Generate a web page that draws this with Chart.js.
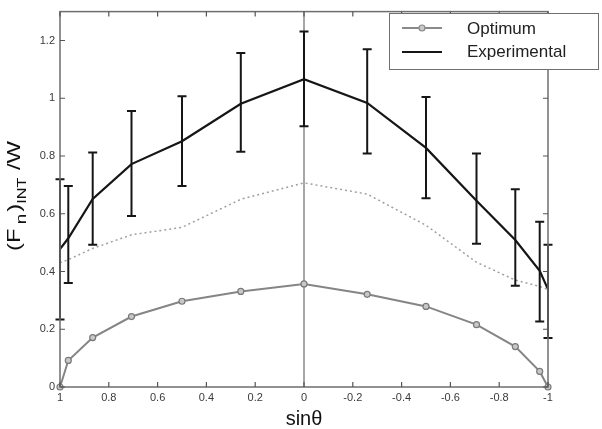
<!DOCTYPE html>
<html>
<head>
<meta charset="utf-8">
<script src="https://cdn.jsdelivr.net/npm/chart.js@4/dist/chart.umd.min.js"></script>
<style>
html,body{margin:0;padding:0;background:#fff;}
#wrap{width:602px;height:429px;position:relative;}
</style>
</head>
<body>
<div id="wrap"><canvas id="c" width="602" height="429"></canvas></div>
<script>
// ---- data ----
const sinTheta     = [1, 0.966, 0.866, 0.707, 0.5, 0.259, 0, -0.259, -0.5, -0.707, -0.866, -0.966, -1];
const optimum      = [0, 0.092, 0.171, 0.244, 0.297, 0.331, 0.357, 0.321, 0.279, 0.216, 0.140, 0.054, 0];
const experimental = [0.478, 0.515, 0.651, 0.772, 0.851, 0.981, 1.066, 0.984, 0.828, 0.645, 0.509, 0.402, 0.338];
const errLow       = [0.234, 0.360, 0.493, 0.592, 0.696, 0.815, 0.903, 0.809, 0.654, 0.496, 0.351, 0.227, 0.170];
const errHigh      = [0.719, 0.696, 0.812, 0.956, 1.007, 1.157, 1.231, 1.170, 1.004, 0.809, 0.685, 0.572, 0.493];
const dottedCurve  = [0.430, 0.441, 0.480, 0.527, 0.553, 0.650, 0.707, 0.668, 0.560, 0.432, 0.370, 0.348, 0.338];
const seriesNames  = ['Optimum', 'Experimental'];
const xTitle = 'sinθ';

const FONT = '"Liberation Sans", Arial, sans-serif';
const pts = arr => arr.map((v, i) => ({x: sinTheta[i], y: v}));
const fmt = v => String(Math.round(v * 10) / 10);

const framePlugin = {
  id: 'frame',
  beforeDatasetsDraw(chart) {
    const {ctx, chartArea: a, scales: {x}} = chart;
    const x0 = x.getPixelForValue(0);
    ctx.save();
    ctx.strokeStyle = '#8a8a8a';
    ctx.lineWidth = 1.5;
    ctx.beginPath();
    ctx.moveTo(x0, a.top); ctx.lineTo(x0, a.bottom);
    ctx.stroke();
    ctx.restore();
  },
  afterDatasetsDraw(chart) {
    const {ctx, scales: {x, y}} = chart;
    ctx.save();
    ctx.strokeStyle = '#161616';
    ctx.lineWidth = 2;
    for (let i = 0; i < sinTheta.length; i++) {
      const px = x.getPixelForValue(sinTheta[i]);
      const lo = y.getPixelForValue(errLow[i]);
      const hi = y.getPixelForValue(errHigh[i]);
      ctx.beginPath();
      ctx.moveTo(px, lo); ctx.lineTo(px, hi);
      ctx.moveTo(px - 4.5, lo); ctx.lineTo(px + 4.5, lo);
      ctx.moveTo(px - 4.5, hi); ctx.lineTo(px + 4.5, hi);
      ctx.stroke();
    }
    ctx.restore();
  },
  afterDraw(chart) {
    const {ctx, chartArea: a, scales: {x, y}} = chart;
    ctx.save();
    ctx.strokeStyle = '#6e6e6e';
    ctx.lineWidth = 1.5;
    ctx.strokeRect(a.left, a.top, a.right - a.left, a.bottom - a.top);
    ctx.lineWidth = 1.2;
    ctx.strokeStyle = '#555';
    ctx.beginPath();
    x.ticks.forEach(t => {
      const p = x.getPixelForValue(t.value);
      ctx.moveTo(p, a.bottom); ctx.lineTo(p, a.bottom - 5);
      ctx.moveTo(p, a.top); ctx.lineTo(p, a.top + 5);
    });
    y.ticks.forEach(t => {
      const p = y.getPixelForValue(t.value);
      ctx.moveTo(a.left, p); ctx.lineTo(a.left + 5, p);
      ctx.moveTo(a.right, p); ctx.lineTo(a.right - 5, p);
    });
    ctx.stroke();

    // x title
    ctx.fillStyle = '#111';
    ctx.font = '20px ' + FONT;
    ctx.textAlign = 'center';
    ctx.textBaseline = 'alphabetic';
    ctx.fillText(xTitle, (a.left + a.right) / 2, 425);

    // y title with subscripts, flowing upward from page y=251
    const segs = [
      {t: '(F',  s: 19, dy: 0,   gap: 3.5},
      {t: 'n',   s: 15, dy: 5.5, gap: 1.5},
      {t: ')',   s: 19, dy: 0,   gap: 0},
      {t: 'INT', s: 13, dy: 5.5, gap: 6},
      {t: '/W',  s: 19, dy: 0,   gap: 0}
    ];
    let total = 0;
    segs.forEach(sg => { ctx.font = sg.s + 'px ' + FONT; sg.w = ctx.measureText(sg.t).width; total += sg.w + sg.gap; });
    const stretch = 110 / total;
    ctx.translate(20, 251);
    ctx.rotate(-Math.PI / 2);
    ctx.scale(stretch, 1);
    ctx.textAlign = 'left';
    let u = 0;
    segs.forEach(sg => {
      ctx.font = sg.s + 'px ' + FONT;
      ctx.fillText(sg.t, u, sg.dy);
      u += sg.w + sg.gap;
    });
    ctx.setTransform(1, 0, 0, 1, 0, 0);

    // legend
    const L = 389.5, T = 13.5, W = 209, H = 56;
    ctx.fillStyle = '#fff';
    ctx.fillRect(L, T, W, H);
    ctx.strokeStyle = '#707070';
    ctx.lineWidth = 1;
    ctx.strokeRect(L, T, W, H);
    ctx.strokeStyle = '#8a8a8a';
    ctx.lineWidth = 2;
    ctx.beginPath(); ctx.moveTo(402, 28); ctx.lineTo(442, 28); ctx.stroke();
    ctx.fillStyle = '#c8c8c8';
    ctx.beginPath(); ctx.arc(422, 28, 3, 0, Math.PI * 2); ctx.fill();
    ctx.lineWidth = 1.2; ctx.stroke();
    ctx.strokeStyle = '#161616';
    ctx.lineWidth = 2;
    ctx.beginPath(); ctx.moveTo(402, 52); ctx.lineTo(442, 52); ctx.stroke();
    ctx.fillStyle = '#222';
    ctx.font = '17px ' + FONT;
    ctx.textBaseline = 'middle';
    ctx.fillText(seriesNames[0], 467, 29);
    ctx.fillText(seriesNames[1], 467, 52);
    ctx.restore();
  }
};

new Chart(document.getElementById('c'), {
  type: 'line',
  data: {
    datasets: [
      {
        label: 'dotted',
        data: pts(dottedCurve),
        borderColor: '#a0a0a0',
        borderWidth: 1.5,
        borderDash: [2, 3],
        pointRadius: 0,
        tension: 0
      },
      {
        label: seriesNames[0],
        data: pts(optimum),
        borderColor: '#858585',
        borderWidth: 2,
        pointRadius: 3,
        pointBorderWidth: 1.2,
        pointBorderColor: '#7a7a7a',
        pointBackgroundColor: '#c8c8c8',
        tension: 0,
        clip: 8
      },
      {
        label: seriesNames[1],
        data: pts(experimental),
        borderColor: '#161616',
        borderWidth: 2.2,
        pointRadius: 0,
        tension: 0
      }
    ]
  },
  options: {
    responsive: false,
    animation: false,
    events: [],
    layout: {padding: {left: 0, right: 54, top: 4, bottom: 0}},
    plugins: {legend: {display: false}, tooltip: {enabled: false}},
    scales: {
      x: {
        type: 'linear',
        reverse: true,
        min: -1, max: 1,
        grid: {display: false, drawTicks: false},
        border: {display: false},
        ticks: {stepSize: 0.2, padding: 4, color: '#3a3a3a', font: {family: FONT, size: 11}, maxRotation: 0, callback: v => fmt(v)},
        afterFit(s) { s.height = 42; }
      },
      y: {
        min: 0, max: 1.3,
        grid: {display: false, drawTicks: false},
        border: {display: false},
        ticks: {stepSize: 0.2, includeBounds: false, padding: 5, color: '#3a3a3a', font: {family: FONT, size: 11}, callback: v => fmt(v)},
        afterFit(s) { s.width = 60; }
      }
    }
  },
  plugins: [framePlugin]
});
</script>
</body>
</html>
